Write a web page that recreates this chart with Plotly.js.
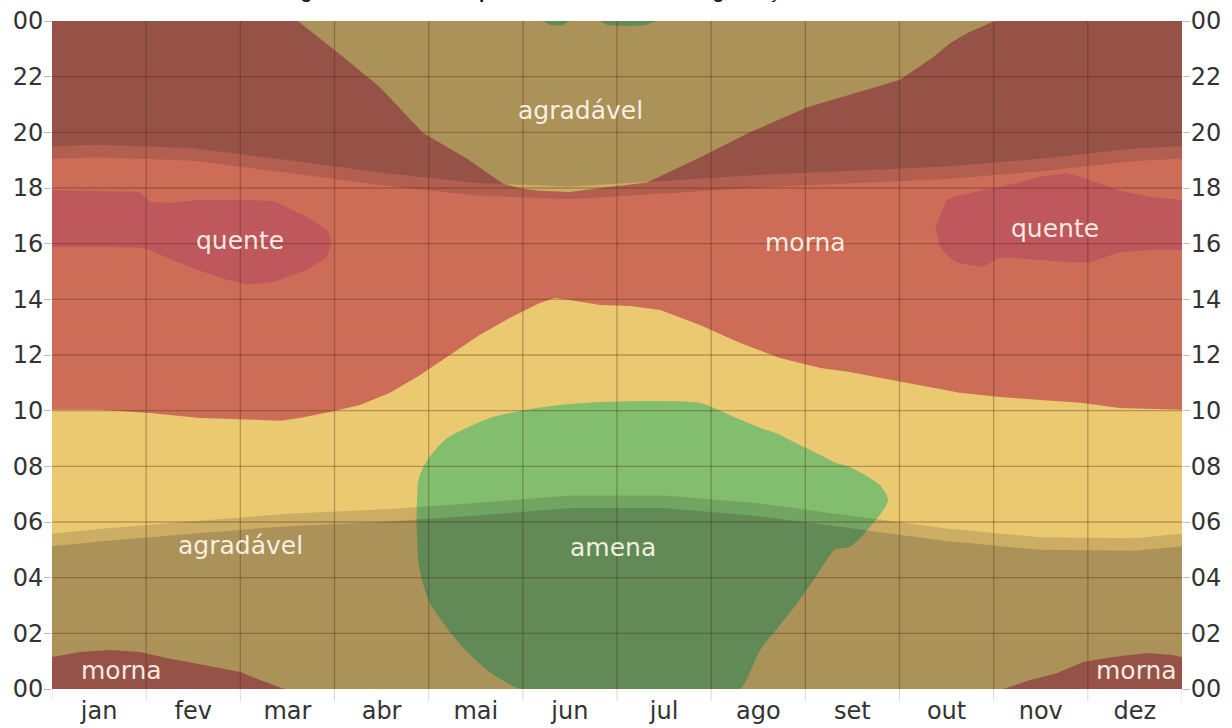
<!DOCTYPE html>
<html><head><meta charset="utf-8">
<script src="https://cdn.plot.ly/plotly-3.0.1.min.js"></script>
<style>html,body{margin:0;padding:0;background:#fff;} #chart{width:1232px;height:728px;}</style>
</head><body><div id="chart"></div>
<script>
// ---- categories / ticks ----
const months = ['jan','fev','mar','abr','mai','jun','jul','ago','set','out','nov','dez'];
const monthCenters = [0.5,1.5,2.5,3.5,4.5,5.5,6.5,7.5,8.5,9.5,10.5,11.5];
const monthEdges = [0,1,2,3,4,5,6,7,8,9,10,11,12];
const hourTicks = [0,2,4,6,8,10,12,14,16,18,20,22,24];
const hourTickText = ['00','02','04','06','08','10','12','14','16','18','20','22','00'];

// ---- boundary of the upper "agradável" (evening) region (x in months, y in hours) ----
const topAgrX = [2.61, 3.06, 3.48, 3.94, 4.41, 4.79, 5.0, 5.18, 5.5, 5.82, 6.32, 6.88, 7.41, 8.02, 8.47, 9.0, 9.36, 9.54, 9.72, 9.99, 10.05];
const topAgrY = [24.0, 22.8, 21.63, 19.98, 19.05, 18.15, 17.97, 17.9, 17.86, 18.0, 18.2, 19.1, 20.0, 20.9, 21.34, 21.88, 22.71, 23.21, 23.57, 23.97, 24.0];

// ---- lower boundary of daytime "morna" region ----
const mornaLowX = [0, 0.51, 1.04, 1.57, 2.10, 2.42, 2.63, 2.95, 3.27, 3.59, 3.91, 4.23, 4.54, 4.86, 5.18, 5.34, 5.50, 5.82, 6.14, 6.46, 6.88, 7.31, 7.73, 8.16, 8.47, 8.79, 9.22, 9.64, 10.07, 10.49, 10.92, 11.34, 12.0];
const mornaLowY = [10.03, 10.03, 9.92, 9.74, 9.67, 9.64, 9.74, 9.95, 10.2, 10.64, 11.28, 12.0, 12.72, 13.33, 13.87, 14.05, 13.98, 13.8, 13.76, 13.62, 13.08, 12.43, 11.89, 11.53, 11.39, 11.18, 10.92, 10.64, 10.49, 10.38, 10.28, 10.1, 10.03];

// ---- "quente" blobs ----
const quenteLX = [0, 0.51, 0.93, 1.04, 1.28, 1.54, 1.86, 2.07, 2.35, 2.71, 2.92, 2.97];
const quenteLHi = [17.93, 17.9, 17.86, 17.5, 17.46, 17.57, 17.57, 17.57, 17.53, 16.96, 16.49, 16.13];
const quenteLLo = [15.88, 15.88, 15.85, 15.77, 15.41, 15.06, 14.7, 14.52, 14.62, 15.06, 15.52, 16.13];
const quenteRX = [9.38, 9.43, 9.50, 9.61, 9.89, 10.07, 10.49, 10.78, 11.02, 11.31, 11.66, 12.0];
const quenteRHi = [16.6, 17.03, 17.57, 17.71, 17.93, 18.04, 18.4, 18.54, 18.29, 17.93, 17.68, 17.57];
const quenteRLo = [16.6, 15.88, 15.6, 15.31, 15.16, 15.52, 15.41, 15.34, 15.31, 15.67, 15.77, 15.77];

// ---- "morna" around midnight ----
const mornaNightLX = [0, 0.30, 0.62, 0.93, 1.22, 1.43, 1.75, 2.0, 2.21, 2.47];
const mornaNightLY = [1.15, 1.33, 1.4, 1.33, 1.11, 0.97, 0.75, 0.61, 0.32, 0.0];
const mornaNightRX = [10.10, 10.39, 10.67, 10.95, 11.27, 11.63, 11.90, 12.0];
const mornaNightRY = [0.0, 0.32, 0.57, 0.97, 1.15, 1.29, 1.22, 1.15];

// ---- "amena" region ----
const amenaX  = [3.87, 3.89, 3.93, 4.01, 4.17, 4.36, 4.65, 4.97, 5.39, 5.82, 6.35, 6.88, 7.31, 7.52, 7.73, 7.94, 8.16, 8.31, 8.47, 8.63, 8.79, 8.86, 8.88];
const amenaHi = [6.0, 7.5, 7.87, 8.34, 8.95, 9.31, 9.74, 9.99, 10.2, 10.31, 10.35, 10.28, 9.67, 9.38, 9.13, 8.77, 8.41, 8.15, 7.98, 7.7, 7.33, 7.0, 6.8];
const amenaLo = [6.0, 4.6, 3.9, 3.1, 2.3, 1.5, 0.6, 0.0, 0.0, 0.0, 0.0, 0.0, 0.0, 1.4, 2.3, 3.2, 4.28, 5.0, 5.1, 5.6, 6.25, 6.6, 6.8];
const amenaTop1X = [5.21, 5.3, 5.42, 5.5];
const amenaTop1Lo = [24, 23.85, 23.85, 24];
const amenaTop2X = [5.82, 5.9, 6.1, 6.3, 6.42];
const amenaTop2Lo = [24, 23.85, 23.82, 23.85, 24];

// ---- night / twilight (hours) ----
const sunX = [0, 0.5, 1.5, 2.5, 3.5, 4.5, 5.5, 6.5, 7.5, 8.5, 9.5, 10.5, 11.5, 12];
const eveTwilight = [19.05, 19.1, 18.98, 18.55, 18.1, 17.73, 17.6, 17.8, 18.02, 18.17, 18.32, 18.6, 18.97, 19.05];
const eveNight    = [19.5, 19.55, 19.43, 19.0, 18.55, 18.18, 18.05, 18.25, 18.47, 18.62, 18.77, 19.05, 19.42, 19.5];
const mornNight   = [5.13, 5.3, 5.58, 5.85, 6.0, 6.23, 6.5, 6.5, 6.22, 5.77, 5.32, 5.0, 4.97, 5.13];
const mornTwilight= [5.58, 5.75, 6.03, 6.3, 6.45, 6.68, 6.95, 6.95, 6.67, 6.22, 5.77, 5.45, 5.42, 5.58];

// ---- labels ----
const labelText = ['agradável','quente','morna','quente','agradável','amena','morna','morna'];
const labelX = [5.61, 2.0, 8.0, 10.65, 2.0, 5.96, 0.74, 11.52];
const labelY = [20.8, 16.13, 16.06, 16.56, 5.17, 5.1, 0.68, 0.68];

const C = {
  agradavel: 'rgb(234,201,112)',
  morna: 'rgb(205,109,88)',
  quente: 'rgb(190,88,92)',
  amena: 'rgb(130,190,110)',
  night: 'rgba(25,20,35,0.30)',
  twilight: 'rgba(25,20,35,0.15)'
};

function poly(ux, uy, lx, ly, color, shape) {
  const x = ux.concat(lx.slice().reverse());
  const y = uy.concat(ly.slice().reverse());
  x.push(x[0]); y.push(y[0]);
  return {type:'scatter', mode:'lines', x:x, y:y, fill:'toself', fillcolor:color,
          line:{width:0, color:color, shape:shape || 'linear', smoothing:0.6}, hoverinfo:'skip', showlegend:false};
}
const const24 = a => a.map(() => 24);
const const0 = a => a.map(() => 0);

const traces = [];
traces.push(poly([0].concat(topAgrX, [12]), [24].concat(topAgrY, [24]), mornaLowX, mornaLowY, C.morna));
traces.push(poly(quenteLX, quenteLHi, quenteLX, quenteLLo, C.quente));
traces.push(poly(quenteRX, quenteRHi, quenteRX, quenteRLo, C.quente));
traces.push(poly(mornaNightLX, mornaNightLY, mornaNightLX, const0(mornaNightLX), C.morna));
traces.push(poly(mornaNightRX, mornaNightRY, mornaNightRX, const0(mornaNightRX), C.morna));
traces.push(poly(amenaX, amenaHi, amenaX, amenaLo, C.amena, 'spline'));
traces.push(poly(amenaTop1X, const24(amenaTop1X), amenaTop1X, amenaTop1Lo, C.amena));
traces.push(poly(amenaTop2X, const24(amenaTop2X), amenaTop2X, amenaTop2Lo, C.amena));
traces.push(poly(sunX, eveNight, sunX, eveTwilight, C.twilight));
traces.push(poly(sunX, const24(sunX), sunX, eveNight, C.night));
traces.push(poly(sunX, mornNight, sunX, const0(sunX), C.night));
traces.push(poly(sunX, mornTwilight, sunX, mornNight, C.twilight));
traces.push({type:'scatter', mode:'markers', x:[0], y:[0], yaxis:'y2', marker:{opacity:0}, hoverinfo:'skip', showlegend:false});

const shapes = [];
monthEdges.slice(1, -1).forEach(m => shapes.push({type:'line', layer:'above', xref:'x', yref:'paper', x0:m, x1:m, y0:0, y1:1, line:{color:'rgba(70,35,10,0.32)', width:1.3}}));
hourTicks.slice(1, -1).forEach(h => shapes.push({type:'line', layer:'above', xref:'paper', yref:'y', x0:0, x1:1, y0:h, y1:h, line:{color:'rgba(70,35,10,0.32)', width:1.3}}));
monthEdges.forEach(m => shapes.push({type:'line', layer:'above', xref:'x', yref:'paper', x0:m, x1:m, y0:0, y1:-0.018, line:{color:'rgba(200,200,200,0.7)', width:1}}));

const labelFont = {family:'DejaVu Sans', size:25, color:'rgba(255,250,240,0.92)'};
const annotations = labelText.map((t, i) => ({x:labelX[i], y:labelY[i], xref:'x', yref:'y', text:t, showarrow:false, font:labelFont}));
annotations.push({xref:'paper', yref:'paper', x:(269-52)/1130, y:1, xanchor:'left', yanchor:'middle', yshift:30,
  text:'<b>Diagrama anual de temperatura horária com categorização</b>', showarrow:false,
  font:{family:'Liberation Sans', size:19, color:'#111'}});

const tickFont = {family:'DejaVu Sans', size:24, color:'#333'};
const layout = {
  width:1232, height:728,
  margin:{l:52, r:50, t:21, b:39},
  paper_bgcolor:'#ffffff', plot_bgcolor:C.agradavel,
  showlegend:false,
  xaxis:{range:[0,12], tickvals:monthCenters, ticktext:months, showgrid:false, zeroline:false, ticks:'', ticklabelstandoff:5, tickfont:tickFont, fixedrange:true},
  yaxis:{range:[0,24], tickvals:hourTicks, ticktext:hourTickText, showgrid:false, zeroline:false, ticks:'outside', ticklen:7, ticklabelstandoff:-4, tickcolor:'rgba(120,120,120,0.5)', tickfont:tickFont, fixedrange:true},
  yaxis2:{range:[0,24], overlaying:'y', side:'right', tickvals:hourTicks, ticktext:hourTickText, showgrid:false, zeroline:false, ticks:'outside', ticklen:7, ticklabelstandoff:-4, tickcolor:'rgba(120,120,120,0.5)', tickfont:tickFont, fixedrange:true},
  shapes:shapes,
  annotations:annotations
};
Plotly.newPlot('chart', traces, layout, {displayModeBar:false, staticPlot:true});
</script>
</body></html>
